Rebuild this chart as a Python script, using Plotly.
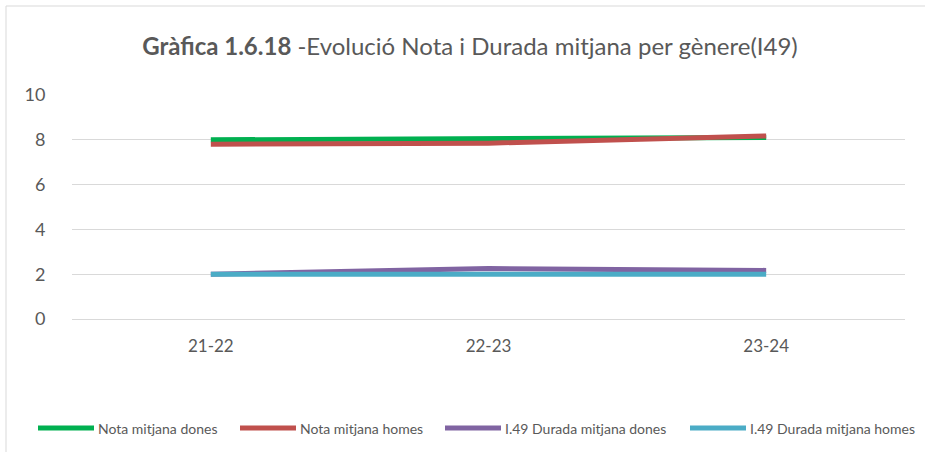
import plotly.graph_objects as go

# Academic years on the category axis
cursos = ["21-22", "22-23", "23-24"]

# Average grade and average duration by gender
nota_dones = [8.0, 8.05, 8.1]
nota_homes = [7.8, 7.85, 8.17]
durada_dones = [2.0, 2.25, 2.17]
durada_homes = [2.0, 2.02, 2.0]

series = [
    ("Nota mitjana dones", nota_dones, "#00B050"),
    ("Nota mitjana homes", nota_homes, "#C0504D"),
    ("I.49 Durada mitjana dones", durada_dones, "#8064A2"),
    ("I.49 Durada mitjana homes", durada_homes, "#4BACC6"),
]

FONT = "Lato"
W, H = 925, 452
L, R, T, B = 72, 20, 95, 133
pw = W - L - R
ph = H - T - B


def px_x(p):
    """Horizontal pixel position -> paper coordinate."""
    return (p - L) / pw


def px_y(p):
    """Vertical pixel position (from top) -> paper coordinate."""
    return (H - B - p) / ph


fig = go.Figure()
for nom, vals, col in series:
    fig.add_trace(go.Scatter(
        x=cursos, y=vals, name=nom, mode="lines",
        line=dict(color=col, width=5),
        showlegend=False,
    ))

# Outer chart frame: left and top edges
frame = dict(type="line", xref="paper", yref="paper",
             line=dict(color="#d9d9d9", width=1), layer="below")
fig.add_shape(**frame, x0=px_x(6), x1=px_x(6), y0=px_y(H), y1=px_y(6))
fig.add_shape(**frame, x0=px_x(6), x1=px_x(W), y0=px_y(6), y1=px_y(6))

# Legend row: swatch line followed by the series name
legend_swatch_left = [38, 240, 445, 690]
legend_y = 428
for (nom, _, col), x0 in zip(series, legend_swatch_left):
    fig.add_shape(
        type="line", xref="paper", yref="paper",
        x0=px_x(x0), x1=px_x(x0 + 56), y0=px_y(legend_y), y1=px_y(legend_y),
        line=dict(color=col, width=5),
    )
    fig.add_annotation(
        text=nom, xref="paper", yref="paper",
        x=px_x(x0 + 58), y=px_y(legend_y),
        xanchor="left", yanchor="middle", showarrow=False,
        font=dict(family=FONT, size=14, color="#595959"),
    )

fig.update_layout(
    width=W, height=H,
    margin=dict(l=L, r=R, t=T, b=B),
    paper_bgcolor="white", plot_bgcolor="white",
    font=dict(family=FONT, color="#595959"),
    title=dict(
        text="<b>Gràfica 1.6.18</b> -Evolució Nota i Durada mitjana per gènere(I49)",
        x=470 / W, xanchor="center", xref="container",
        y=1 - 47 / H, yanchor="middle", yref="container",
        font=dict(family=FONT, size=24, color="#595959"),
    ),
    xaxis=dict(
        type="category", range=[-0.5, 2.5],
        showgrid=False, showline=False, zeroline=False,
        ticks="outside", ticklen=12, tickcolor="rgba(0,0,0,0)",
        tickfont=dict(family=FONT, size=17, color="#595959"),
    ),
    yaxis=dict(
        range=[0, 10], dtick=2, tick0=0,
        showgrid=True, gridcolor="#d9d9d9", gridwidth=1,
        zeroline=True, zerolinecolor="#d9d9d9", zerolinewidth=1,
        showline=False,
        ticks="outside", ticklen=22, tickcolor="rgba(0,0,0,0)",
        tickfont=dict(family=FONT, size=18, color="#595959"),
    ),
    showlegend=False,
)

fig.write_html("out.html")
